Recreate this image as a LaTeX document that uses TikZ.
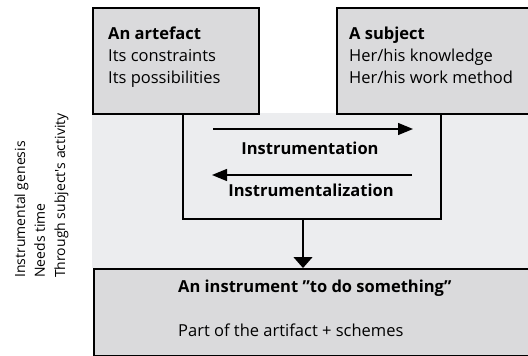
\documentclass[tikz,border=0pt]{standalone}
\usepackage{fontspec}
\setmainfont{Open Sans}
\usetikzlibrary{arrows.meta}
\definecolor{boxfill}{RGB}{218,218,220}
\definecolor{bgfill}{RGB}{236,237,239}
\tikzset{
  boxline/.style={draw=black, line width=1.7pt, fill=boxfill},
  midline/.style={draw=black, line width=1.3pt},
  harrow/.style={draw=black, line width=1.3pt, -{Triangle[length=15pt,width=12pt]}},
  varrow/.style={draw=black, line width=1.3pt, -{Triangle[length=11pt,width=19pt]}},
  txt/.style={inner sep=0pt, font=\fontsize{16.5}{21.5}\selectfont},
  btxt/.style={inner sep=0pt, font=\fontsize{16.5}{21.5}\selectfont\bfseries},
  sidetxt/.style={inner sep=0pt, rotate=90, anchor=base west, font=\fontsize{14}{20}\selectfont},
}
\begin{document}
\begin{tikzpicture}[x=1pt,y=-1pt]
\useasboundingbox (0,0) rectangle (528,356);
\clip (0,0) rectangle (528,356);
% light background region
\fill[bgfill] (92,113) rectangle (540,268);
% boxes
\node[boxline, minimum width=166pt, minimum height=106pt, anchor=north west, inner sep=0pt] (art) at (92,7) {};
\node[boxline, minimum width=205pt, minimum height=106pt, anchor=north west, inner sep=0pt] (subj) at (336,7) {};
\node[boxline, minimum width=450pt, minimum height=87pt, anchor=north west, inner sep=0pt] (inst) at (93,268) {};
% texts of artefact
\node[btxt, anchor=base west] (art1) at (108,39) {An artefact};
\node[txt, anchor=base west] (art2) at (108,61.5) {Its constraints};
\node[txt, anchor=base west] (art3) at (108,83) {Its possibilities};
% texts of subject
\node[btxt, anchor=base west] (sub1) at (349,39) {A subject};
\node[txt, anchor=base west] (sub2) at (349,61.5) {Her/his knowledge};
\node[txt, anchor=base west] (sub3) at (349,83) {Her/his work method};
% middle box (open at top)
\coordinate (mtl) at (183,113);
\coordinate (mbl) at (183,219);
\coordinate (mbr) at (441,219);
\coordinate (mtr) at (441,113);
\draw[midline] (mtl) -- (mbl) -- (mbr) -- (mtr);
% arrows
\coordinate (r1) at (213,129);
\coordinate (r2) at (413,129);
\coordinate (l1) at (412,175);
\coordinate (l2) at (212,175);
\draw[harrow] (r1) -- (r2);
\draw[harrow] (l1) -- (l2);
\node[btxt, anchor=base] (instr) at (310,154) {Instrumentation};
\node[btxt, anchor=base] (instz) at (311,196) {Instrumentalization};
% down arrow
\coordinate (dtop) at (303,219);
\draw[varrow] (dtop) -- (dtop |- inst.north);
% bottom texts
\node[btxt, anchor=base west] (ins1) at (178,292) {An instrument \symbol{34}to do something\symbol{34}};
\node[txt, anchor=base west] (ins2) at (178,336) {Part of the artifact + schemes};
% side texts
\node[sidetxt] (s1) at (25,278) {Instrumental genesis};
\node[sidetxt] (s2) at (45,278) {Needs time};
\node[sidetxt] (s3) at (65,278) {Through subject\textquotesingle s activity};
\end{tikzpicture}
\end{document}
